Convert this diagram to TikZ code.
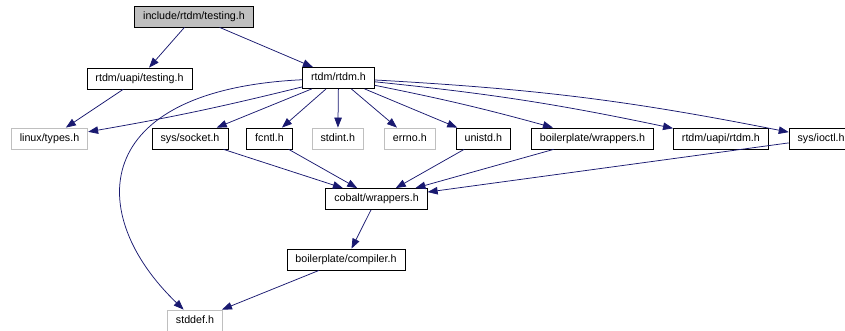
\documentclass[tikz,border=0pt]{standalone}
\usepackage{fontspec}
\setmainfont{Liberation Sans}
\usetikzlibrary{positioning,arrows.meta}
\definecolor{edgeblue}{RGB}{25,25,112}
\definecolor{extgray}{RGB}{191,191,191}
\definecolor{rootfill}{RGB}{191,191,191}
\tikzset{
  hdr/.style={rectangle,draw=black,line width=0.8pt,fill=white,inner xsep=8.5pt,inner ysep=0pt,minimum height=21pt,text height=8pt,text depth=2.3pt,font=\fontsize{10.7pt}{12pt}\selectfont},
  roothdr/.style={hdr,fill=rootfill},
  exthdr/.style={hdr,draw=extgray},
  dep/.style={-{Triangle[length=10pt,width=7.5pt]},draw=edgeblue,line width=0.75pt}
}

\begin{document}
\begin{tikzpicture}[x=1pt,y=-1pt,node distance=19pt]
  \useasboundingbox (0,0) rectangle (845,331);

  \node[roothdr] (testing) at (194,16.5) {include/rtdm/testing.h};
  \node[hdr] (uapitesting) at (139.5,78.5) {rtdm/uapi/testing.h};
  \node[hdr] (rtdm) at (338.5,78) {rtdm/rtdm.h};

  \node[exthdr] (types) at (49.5,138.5) {linux/types.h};
  \node[hdr] (socket) at (190,138.5) {sys/socket.h};
  \node[hdr,right=18pt of socket] (fcntl) {fcntl.h};
  \node[exthdr,right=of fcntl] (stdint) {stdint.h};
  \node[exthdr,right=20pt of stdint] (errno) {errno.h};
  \node[hdr,right=20pt of errno] (unistd) {unistd.h};
  \node[hdr,right=20pt of unistd] (bpwrap) {boilerplate/wrappers.h};
  \node[hdr,right=of bpwrap] (uapirtdm) {rtdm/uapi/rtdm.h};
  \node[hdr,right=20pt of uapirtdm] (ioctl) {sys/ioctl.h};

  \node[hdr] (cobwrap) at (376.5,199) {cobalt/wrappers.h};
  \node[hdr] (compiler) at (346,259.5) {boilerplate/compiler.h};
  \node[exthdr] (stddef) at (195,320.5) {stddef.h};

  \draw[dep] (testing) -- (uapitesting);
  \draw[dep] (testing) -- (rtdm);
  \draw[dep] (uapitesting) -- (types);
  \draw[dep] (rtdm) to[bend left=2] (types);
  \draw[dep] (rtdm) .. controls (88,90) and (85,215) .. (stddef);
  \draw[dep] (rtdm) -- (socket);
  \draw[dep] (rtdm) -- (fcntl);
  \draw[dep] (rtdm) -- (stdint);
  \draw[dep] (rtdm) -- (errno);
  \draw[dep] (rtdm) -- (unistd);
  \draw[dep] (rtdm) to[bend left=2] (bpwrap);
  \draw[dep] (rtdm) to[bend left=3] (uapirtdm);
  \draw[dep] (rtdm) to[bend left=4] (ioctl);

  \draw[dep] (socket) -- (cobwrap);
  \draw[dep] (fcntl) -- (cobwrap);
  \draw[dep] (unistd) -- (cobwrap);
  \draw[dep] (bpwrap) -- (cobwrap);
  \draw[dep] (ioctl) -- (cobwrap);
  \draw[dep] (cobwrap) -- (compiler);
  \draw[dep] (compiler) -- (stddef);
\end{tikzpicture}
\end{document}
